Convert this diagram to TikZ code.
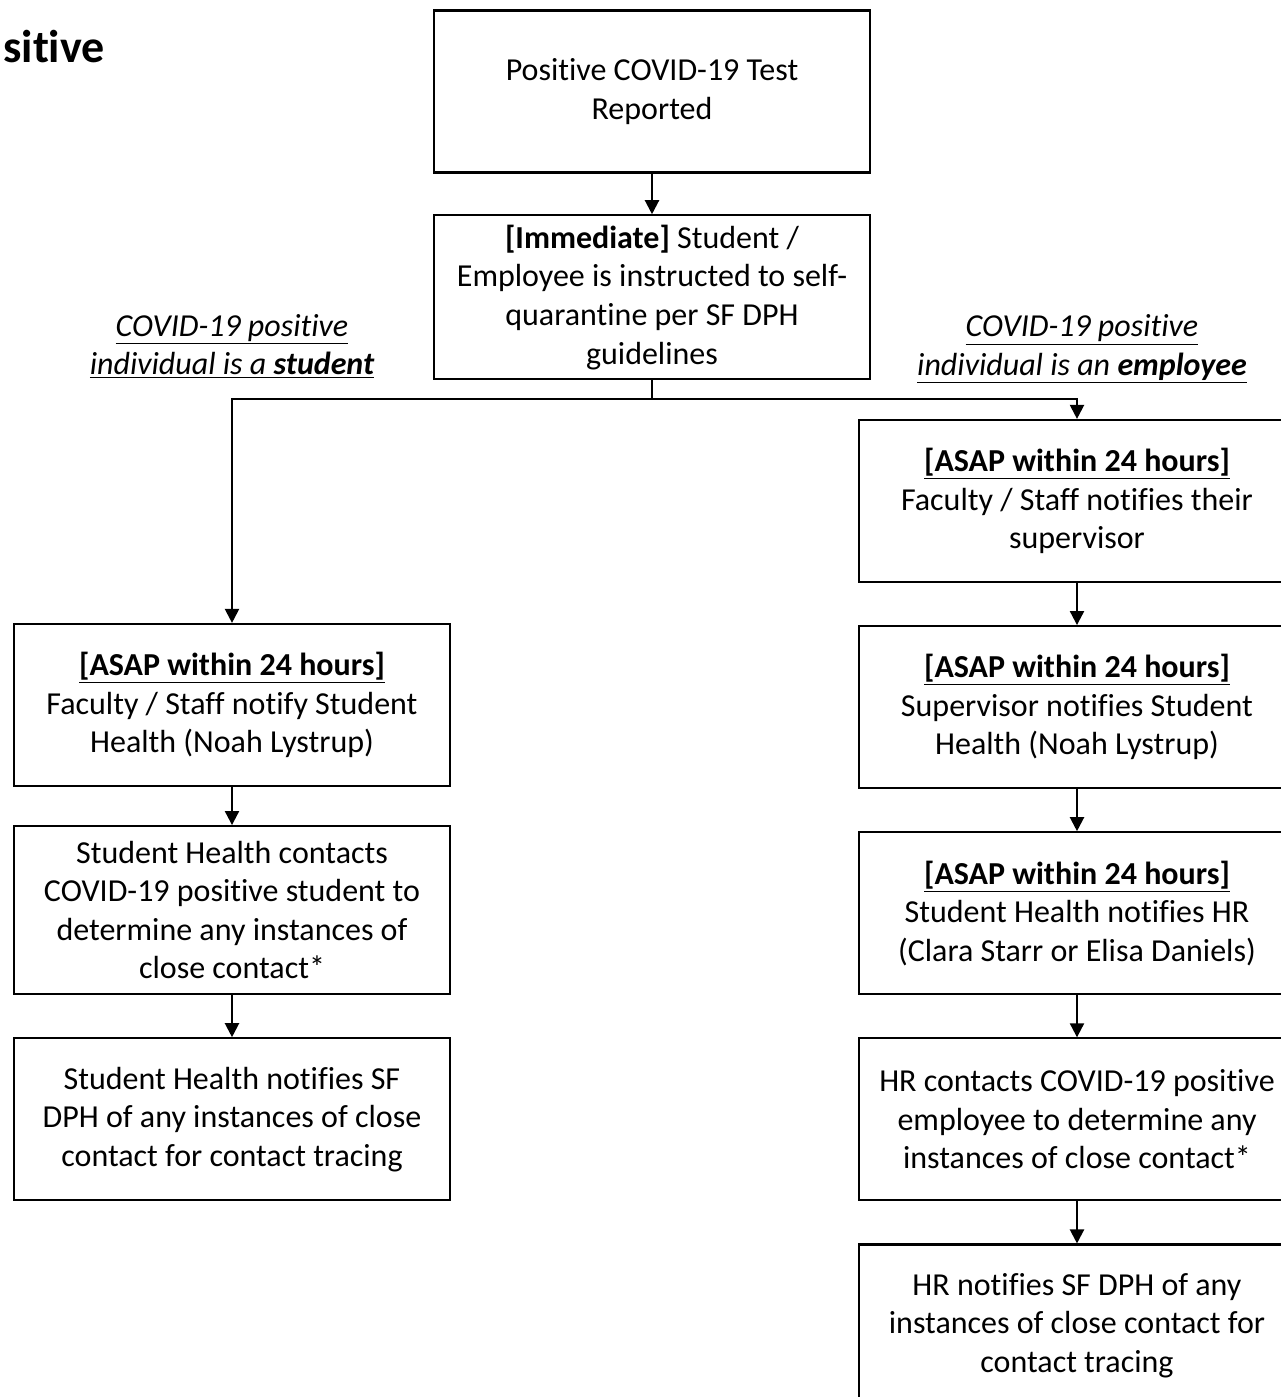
\documentclass[tikz,border=0pt]{standalone}
\usepackage{fontspec}
\setmainfont{Carlito}[Ligatures=CommonOff]
\usetikzlibrary{positioning,arrows.meta}
\begin{document}
\begin{tikzpicture}[
        x=0.75pt, y=0.75pt,
        box/.style={draw, line width=1.6pt, minimum width=327pt, minimum height=121.5pt, align=center, inner sep=0pt, font=\fontsize{24}{28.9}\selectfont},
        branchlbl/.style={align=center, inner sep=0pt, font=\fontsize{24}{28.9}\selectfont\itshape},
        flow/.style={line width=1.6pt, -{Triangle[length=10.5pt,width=10.5pt]}},
        node distance=31.5pt,
    ]
    \useasboundingbox (0,0) rectangle (1281,1397);
    \node[anchor=base east, inner sep=0pt, font=\fontsize{34.5}{40}\selectfont\bfseries] (title) at (105,1334) {sitive};
    \node[box] (reported) at (652,1305.5) {Positive COVID-19 Test\\Reported};
    \node[box, minimum height=123pt, below=30.5pt of reported] (quarantine) {\textbf{[Immediate]} Student /\\Employee is instructed to self-\\quarantine per SF DPH\\guidelines};
    \node[branchlbl] (studentlbl) at (232,1051) {\underline{COVID-19 positive}\\\underline{individual is a \textbf{student}}};
    \node[branchlbl] (employeelbl) at (1082,1048) {\underline{COVID-19 positive}\\\underline{individual is an \textbf{employee}}};
    \coordinate (split) at (652,998);
    % student branch
    \node[box] (facnotify) at (232,692) {\underline{\textbf{[ASAP within 24 hours]}}\\Faculty / Staff notify Student\\Health (Noah Lystrup)};
    \node[box, minimum height=126pt, below=28.5pt of facnotify] (shcontact) {Student Health contacts\\COVID-19 positive student to\\determine any instances of\\close contact*};
    \node[box, below=of shcontact] (shdph) {Student Health notifies SF\\DPH of any instances of close\\contact for contact tracing};
    % employee branch
    \node[box] (supnotify) at (1077,896) {\underline{\textbf{[ASAP within 24 hours]}}\\Faculty / Staff notifies their\\supervisor};
    \node[box, below=of supnotify] (supsh) {\underline{\textbf{[ASAP within 24 hours]}}\\Supervisor notifies Student\\Health (Noah Lystrup)};
    \node[box, below=of supsh] (shhr) {\underline{\textbf{[ASAP within 24 hours]}}\\Student Health notifies HR\\(Clara Starr or Elisa Daniels)};
    \node[box, below=of shhr] (hrcontact) {HR contacts COVID-19 positive\\employee to determine any\\instances of close contact*};
    \node[box, below=of hrcontact] (hrdph) {HR notifies SF DPH of any\\instances of close contact for\\contact tracing};

    \draw[flow] (reported) -- (quarantine);
    \draw[line width=1.6pt] (quarantine.south) -- (split);
    \draw[flow] (split) -| (facnotify.north);
    \draw[flow] (split) -| (supnotify.north);
    \draw[flow] (facnotify) -- (shcontact);
    \draw[flow] (shcontact) -- (shdph);
    \draw[flow] (supnotify) -- (supsh);
    \draw[flow] (supsh) -- (shhr);
    \draw[flow] (shhr) -- (hrcontact);
    \draw[flow] (hrcontact) -- (hrdph);
\end{tikzpicture}
\end{document}
